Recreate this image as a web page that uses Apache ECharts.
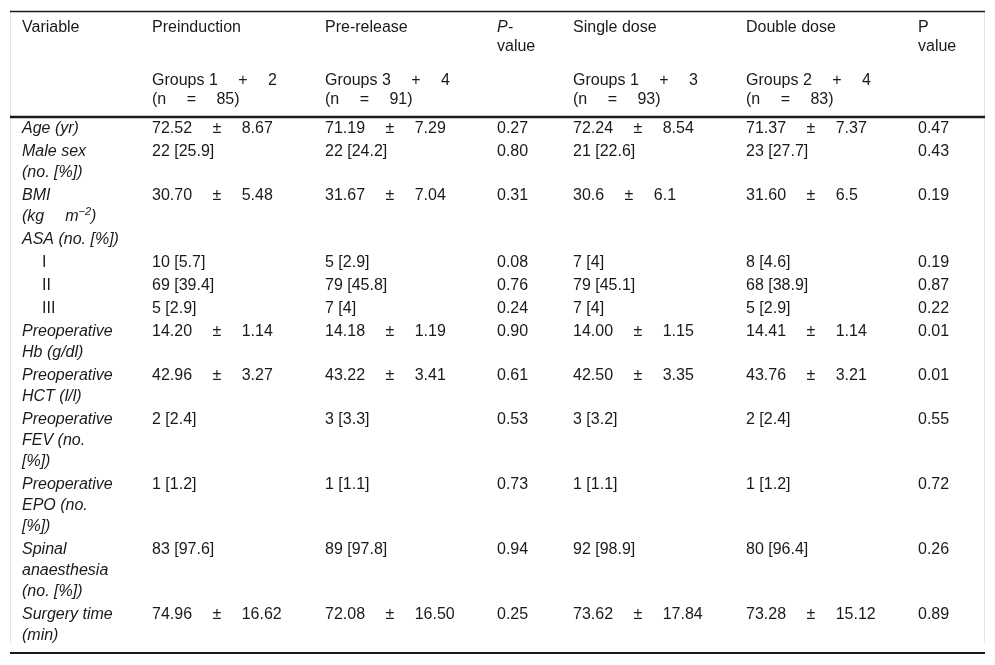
<!DOCTYPE html>
<html>
<head>
<meta charset="utf-8">
<script src="https://cdn.jsdelivr.net/npm/echarts@6/dist/echarts.min.js"></script>
<style>
  html, body { margin: 0; padding: 0; background: #fff; }
  #chart { width: 995px; height: 665px; }
</style>
</head>
<body>
<div id="chart"></div>
<script>
// table content
const headers = ['Variable', 'Preinduction', 'Pre-release', '{it|P-}\nvalue', 'Single dose', 'Double dose', 'P\nvalue']
const subHeaders = ['', 'Groups 1 + 2\n(n = 85)', 'Groups 3 + 4\n(n = 91)', '', 'Groups 1 + 3\n(n = 93)', 'Groups 2 + 4\n(n = 83)', '']

const variables = [
  'Age (yr)',
  'Male sex\n(no. [%])',
  'BMI\n(kg{gap| }m{sup|−2})',
  'ASA (no. [%])',
  'I',
  'II',
  'III',
  'Preoperative\nHb (g/dl)',
  'Preoperative\nHCT (l/l)',
  'Preoperative\nFEV (no.\n[%])',
  'Preoperative\nEPO (no.\n[%])',
  'Spinal\nanaesthesia\n(no. [%])',
  'Surgery time\n(min)'
]
const subLevel = [false, false, false, false, true, true, true, false, false, false, false, false, false]

const preinduction = ['72.52 ± 8.67', '22 [25.9]', '30.70 ± 5.48', '', '10 [5.7]', '69 [39.4]', '5 [2.9]', '14.20 ± 1.14', '42.96 ± 3.27', '2 [2.4]', '1 [1.2]', '83 [97.6]', '74.96 ± 16.62']
const preRelease = ['71.19 ± 7.29', '22 [24.2]', '31.67 ± 7.04', '', '5 [2.9]', '79 [45.8]', '7 [4]', '14.18 ± 1.19', '43.22 ± 3.41', '3 [3.3]', '1 [1.1]', '89 [97.8]', '72.08 ± 16.50']
const pValueTiming = ['0.27', '0.80', '0.31', '', '0.08', '0.76', '0.24', '0.90', '0.61', '0.53', '0.73', '0.94', '0.25']
const singleDose = ['72.24 ± 8.54', '21 [22.6]', '30.6 ± 6.1', '', '7 [4]', '79 [45.1]', '7 [4]', '14.00 ± 1.15', '42.50 ± 3.35', '3 [3.2]', '1 [1.1]', '92 [98.9]', '73.62 ± 17.84']
const doubleDose = ['71.37 ± 7.37', '23 [27.7]', '31.60 ± 6.5', '', '8 [4.6]', '68 [38.9]', '5 [2.9]', '14.41 ± 1.14', '43.76 ± 3.21', '2 [2.4]', '1 [1.2]', '80 [96.4]', '73.28 ± 15.12']
const pValueDose = ['0.47', '0.43', '0.19', '', '0.19', '0.87', '0.22', '0.01', '0.01', '0.55', '0.72', '0.26', '0.89']

// layout
const colX = [22, 152, 325, 497, 573, 746, 918]
const tableLeft = 10
const tableRight = 984
const fontFamily = '"Liberation Sans", Arial, Helvetica, sans-serif'
const fontSize = 16
const textColor = '#1a1a1a'
const bodyLineH = 21
const rowPad = 2
const bodyStartY = 129
const headLineH = 19

const chart = echarts.init(document.getElementById('chart'), null, { renderer: 'canvas' })

// wide gaps around +, =, ±
const GAP = '\u2003 '
function widen(s) {
  return s.replace(/ ([+=±]) /g, GAP + '$1' + GAP)
}

function richStyles(italic) {
  const base = { fontFamily: fontFamily, fontSize: fontSize, fill: textColor, fontStyle: italic ? 'italic' : 'normal' }
  return {
    it: Object.assign({}, base, { fontStyle: 'italic' }),
    gap: Object.assign({}, base, { width: 21 }),
    sup: Object.assign({}, base, { fontSize: 11, lineHeight: 11, verticalAlign: 'top' })
  }
}

function textEl(str, x, y, italic) {
  return {
    type: 'text',
    x: x,
    y: y,
    silent: true,
    style: {
      text: str,
      fontFamily: fontFamily,
      fontSize: fontSize,
      fontStyle: italic ? 'italic' : 'normal',
      fill: textColor,
      align: 'left',
      verticalAlign: 'middle',
      lineHeight: bodyLineH,
      rich: richStyles(italic)
    }
  }
}

function lineEl(x1, y1, x2, y2, width, color) {
  return {
    type: 'line',
    silent: true,
    shape: { x1: x1, y1: y1, x2: x2, y2: y2 },
    style: { stroke: color, lineWidth: width }
  }
}

const elements = []

// frame
elements.push(lineEl(tableLeft + 0.5, 11, tableLeft + 0.5, 643, 1, '#e4e4e4'))
elements.push(lineEl(tableRight + 0.5, 11, tableRight + 0.5, 643, 1, '#e4e4e4'))
elements.push(lineEl(tableLeft, 11.5, tableRight + 1, 11.5, 1.5, '#1a1a1a'))
elements.push(lineEl(tableLeft, 117, tableRight + 1, 117, 2.5, '#1a1a1a'))
elements.push(lineEl(tableLeft, 653, tableRight + 1, 653, 1.8, '#1a1a1a'))

// header rows
headers.forEach(function (h, c) {
  h.split('\n').forEach(function (ln, k) {
    elements.push(textEl(ln, colX[c], 28 + k * headLineH, false))
  })
})
subHeaders.forEach(function (h, c) {
  if (!h) return
  h.split('\n').forEach(function (ln, k) {
    elements.push(textEl(widen(ln), colX[c], 81 + k * headLineH, false))
  })
})

// body rows
const columns = [preinduction, preRelease, pValueTiming, singleDose, doubleDose, pValueDose]
let y = bodyStartY
variables.forEach(function (v, r) {
  const lines = v.split('\n')
  lines.forEach(function (ln, k) {
    const x = subLevel[r] ? colX[0] + 20 : colX[0]
    elements.push(textEl(ln, x, y + k * bodyLineH, !subLevel[r]))
  })
  columns.forEach(function (col, c) {
    if (col[r]) elements.push(textEl(widen(col[r]), colX[c + 1], y, false))
  })
  y += lines.length * bodyLineH + rowPad
})

chart.setOption({
  backgroundColor: '#fff',
  animation: false,
  graphic: { elements: elements }
})
</script>
</body>
</html>
